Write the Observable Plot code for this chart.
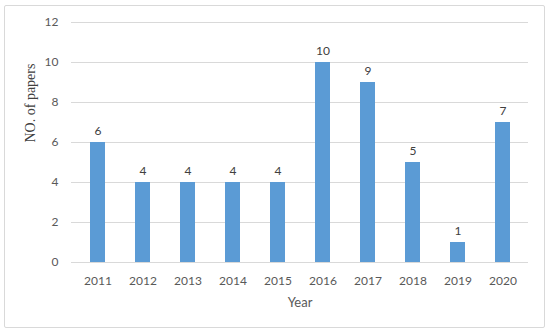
<!DOCTYPE html>
<html>
<head>
<meta charset="utf-8">
<script src="https://cdn.jsdelivr.net/npm/d3@7"></script>
<script src="https://cdn.jsdelivr.net/npm/@observablehq/plot@0.6"></script>
<style>
  html, body { margin: 0; padding: 0; background: #fff; }
  #wrap { position: relative; width: 550px; height: 335px; }
  #border { position: absolute; left: 4px; top: 5px; width: 539px; height: 321px; border: 1px solid #d9d9d9; border-radius: 2px; pointer-events: none; }
</style>
</head>
<body>
<div id="wrap"><div id="border"></div></div>
<script>
const years = ["2011","2012","2013","2014","2015","2016","2017","2018","2019","2020"];
const papers = [6, 4, 4, 4, 4, 10, 9, 5, 1, 7];
const yTicks = [0, 2, 4, 6, 8, 10, 12];

const data = years.map((y, i) => ({year: y, n: papers[i]}));
const font = "Lato, 'Open Sans', sans-serif";

const chart = Plot.plot({
  width: 550,
  height: 335,
  marginLeft: 71,
  marginRight: 22,
  marginTop: 22,
  marginBottom: 73,
  style: {fontFamily: font, fontSize: "12px", color: "#595959", background: "transparent"},
  x: {domain: years, paddingInner: 0.67, paddingOuter: 0.335, label: null},
  y: {domain: [0, 12], label: null},
  marks: [
    Plot.gridY(yTicks, {stroke: "#d9d9d9", strokeOpacity: 1}),
    Plot.barY(data, {x: "year", y: "n", fill: "#5b9bd5"}),
    Plot.text(data, {x: "year", y: "n", text: d => String(d.n), dy: -11, fill: "#404040", fontSize: 12}),
    Plot.axisY(yTicks, {tickSize: 0, tickPadding: 13, fill: "#595959", fontSize: 12, label: null}),
    Plot.axisX({tickSize: 0, tickPadding: 14, fill: "#595959", fontSize: 12, label: null}),
    Plot.text(["Year"], {frameAnchor: "bottom", dy: 44, fill: "#595959", fontSize: 13}),
    Plot.text(["NO. of papers"], {frameAnchor: "left", dx: -41, rotate: -90, fill: "#404040", fontSize: 14, fontFamily: "'Liberation Serif', serif"})
  ]
});
document.getElementById("wrap").appendChild(chart);
chart.style.position = "absolute";
chart.style.left = "0";
chart.style.top = "0";
</script>
</body>
</html>
